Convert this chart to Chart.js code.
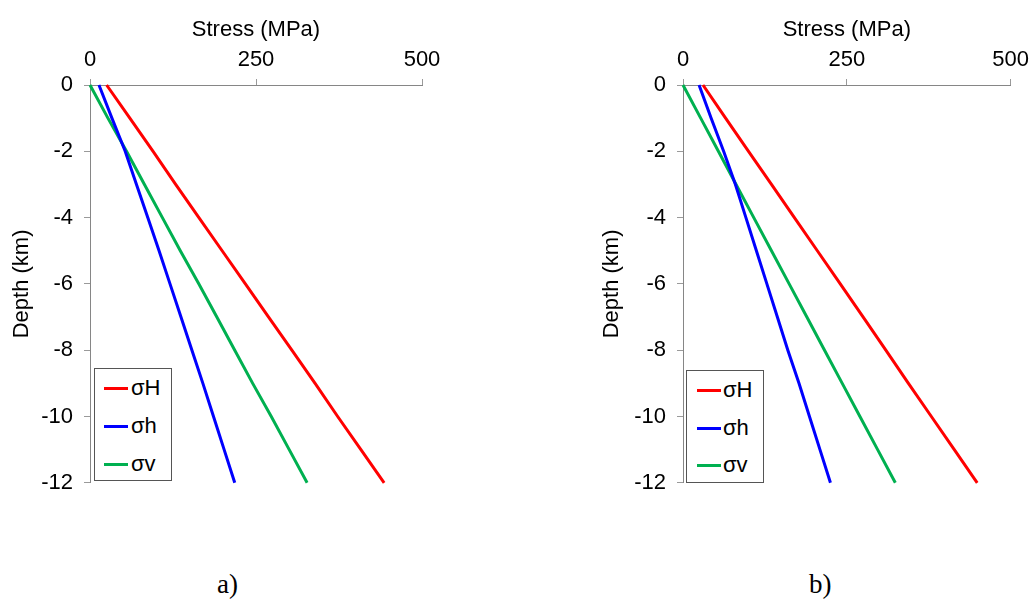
<!DOCTYPE html>
<html>
<head>
<meta charset="utf-8">
<script src="https://cdn.jsdelivr.net/npm/chart.js@4.4.1/dist/chart.umd.min.js"></script>
<style>
  html, body { margin:0; padding:0; background:#fff; }
  body { width:1035px; height:599px; position:relative; overflow:hidden; font-family:"Liberation Sans", Arial, sans-serif; }
  .wrap { position:absolute; top:0; height:507px; }
  .legend { position:absolute; border:1px solid #555; background:#fff; box-sizing:border-box; }
  .item { position:absolute; left:0; height:26px; display:flex; align-items:center; font-size:22px; color:#000; }
  .swatch { display:inline-block; height:3px; }
  .cap { position:absolute; font-family:"Liberation Serif","Times New Roman",serif; font-size:27px; color:#000; }
</style>
</head>
<body>
<div class="wrap" id="wa" style="left:0;width:520px;"><canvas id="ca" width="520" height="507"></canvas></div>
<div class="wrap" id="wb" style="left:590px;width:445px;"><canvas id="cb" width="445" height="507"></canvas></div>
<div class="legend" id="la" style="left:94px;top:368px;width:78px;height:113px;"></div>
<div class="legend" id="lb" style="left:686px;top:370px;width:78px;height:113px;"></div>
<div class="cap" style="left:217px;top:569px;">a)</div>
<div class="cap" style="left:809px;top:569px;">b)</div>
<script>
// ---- data ----
const depths = [0, -1, -2, -3, -4, -5, -6, -7, -8, -9, -10, -11, -12];
const seriesNames = ['σH', 'σh', 'σv'];
const seriesColors = ['#FF0000', '#0000FF', '#00B050'];
// chart a)
const aSigmaH = [25, 60, 95, 129, 164, 199, 234, 269, 304, 339, 373, 408, 443];
const aSigmah = [13.5, 33, 53, 70, 87, 104, 120.5, 137, 153.5, 170, 186, 202, 218];
const aSigmav = [0, 27, 55, 82, 109, 136, 164, 191, 218, 245, 273, 300, 327];
// chart b)
const bSigmaH = [30.5, 65, 100, 135, 170, 205, 240, 275, 309.5, 344, 379, 414, 449];
const bSigmah = [24.5, 43, 62, 80, 96, 112, 128, 144, 160, 177, 193, 209, 225];
const bSigmav = [0, 27, 54, 81, 108, 135, 162, 189, 216, 243, 270, 297, 324];
// ticks
const xTickValues = [0, 250, 500];
const yTickValues = [0, -2, -4, -6, -8, -10, -12];
const xTitle = 'Stress (MPa)';
const yTitle = 'Depth (km)';

const FONT = '"Liberation Sans", Arial, sans-serif';

function makeDatasets(arrs) {
  return arrs.map((vals, i) => ({
    label: seriesNames[i],
    data: vals.map((v, k) => ({ x: v, y: depths[k] })),
    borderColor: seriesColors[i],
    backgroundColor: seriesColors[i],
    borderWidth: 3,
    pointRadius: 0,
    fill: false,
    tension: 0,
    clip: false
  }));
}

function makeChart(id, arrs, yWidth, padRight) {
  return new Chart(document.getElementById(id), {
    type: 'line',
    data: { datasets: makeDatasets(arrs) },
    options: {
      responsive: false,
      animation: false,
      layout: { padding: { left: 0, top: 0, right: padRight, bottom: 11 } },
      plugins: { legend: { display: false }, tooltip: { enabled: false } },
      scales: {
        x: {
          type: 'linear',
          position: 'top',
          min: 0, max: 500,
          afterBuildTicks: s => { s.ticks = xTickValues.map(v => ({ value: v })); },
          afterFit: s => { s.height = 85; },
          grid: { drawOnChartArea: false, drawTicks: true, tickLength: 6, color: '#9a9a9a', lineWidth: 1 },
          border: { display: true, color: '#868686', width: 1 },
          ticks: { color: '#000', font: { family: FONT, size: 22 }, padding: 6, maxRotation: 0 },
          title: { display: true, text: xTitle, color: '#000', font: { family: FONT, size: 22 }, padding: { top: 17, bottom: 0 } }
        },
        y: {
          type: 'linear',
          position: 'left',
          min: -12, max: 0,
          afterBuildTicks: s => { s.ticks = yTickValues.map(v => ({ value: v })); },
          afterFit: s => { s.width = yWidth; },
          grid: { drawOnChartArea: false, drawTicks: true, tickLength: 6, color: '#9a9a9a', lineWidth: 1 },
          border: { display: true, color: '#868686', width: 1 },
          ticks: { color: '#000', font: { family: FONT, size: 22 }, padding: 11 },
          title: { display: true, text: yTitle, color: '#000', font: { family: FONT, size: 22 }, padding: { top: 9, bottom: 0 } }
        }
      }
    }
  });
}

function htmlLegend(chart, elId, lineX, lineW, textX, ys) {
  const box = document.getElementById(elId);
  const items = Chart.defaults.plugins.legend.labels.generateLabels(chart);
  items.forEach((it, i) => {
    const row = document.createElement('div');
    row.className = 'item';
    row.style.top = (ys[i] - 13) + 'px';
    row.style.left = lineX + 'px';
    const sw = document.createElement('span');
    sw.className = 'swatch';
    sw.style.width = lineW + 'px';
    sw.style.background = it.strokeStyle;
    const tx = document.createElement('span');
    tx.textContent = it.text;
    tx.style.marginLeft = (textX - lineX - lineW) + 'px';
    row.appendChild(sw); row.appendChild(tx);
    box.appendChild(row);
  });
}

const chartA = makeChart('ca', [aSigmaH, aSigmah, aSigmav], 90, 98);
const chartB = makeChart('cb', [bSigmaH, bSigmah, bSigmav], 93, 19);
htmlLegend(chartA, 'la', 9, 24, 36, [19, 57, 95]);
htmlLegend(chartB, 'lb', 10, 24, 36, [19, 57, 94]);
</script>
</body>
</html>
